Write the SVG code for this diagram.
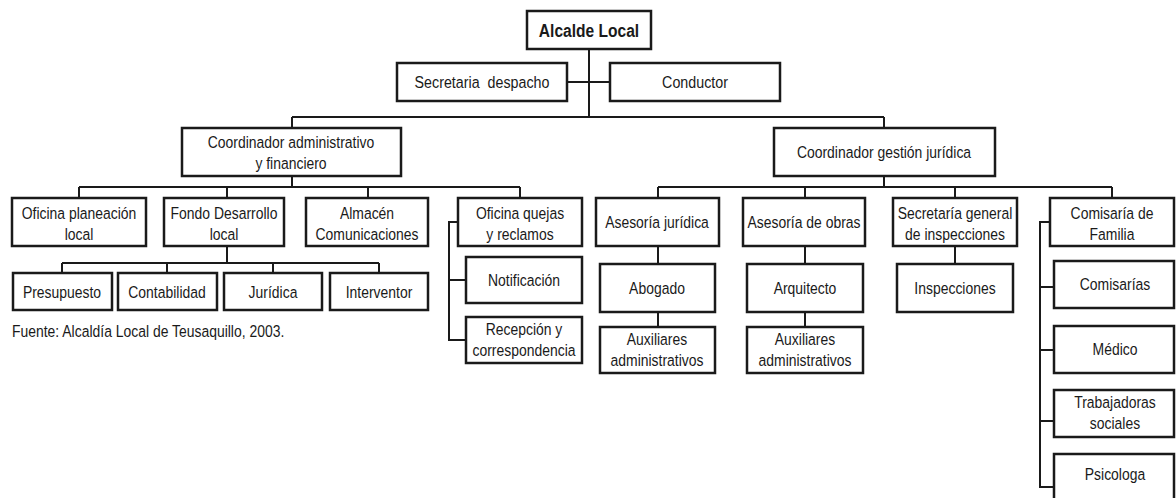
<svg xmlns="http://www.w3.org/2000/svg" width="1176" height="498" viewBox="0 0 1176 498">
<style>
.b{fill:#fff;stroke:#1a1a1a;stroke-width:2.5}
.c{fill:none;stroke:#1a1a1a;stroke-width:2}
text{font-family:"Liberation Sans",Arial,sans-serif;font-size:17px;fill:#1a1a1a;text-anchor:middle}
.bold{font-weight:bold;font-size:19px}
.src{text-anchor:start}
</style>
<rect width="1176" height="498" fill="#fff"/>
<g id="connectors" class="c">
<path d="M589 49V117M567 82H610M292 117H884M292 117V128M884 117V128"/>
<path d="M292 176V187M79 187H520M79 187V198M227 187V198M368 187V198M520 187V198"/>
<path d="M884 176V187M658 187H1112M658 187V198M805 187V198M955 187V198M1112 187V198"/>
<path d="M227 246V263M62 263H379M62 263V273M167 263V273M273 263V273M379 263V273"/>
<path d="M458 222H449V340H466M449 280H466"/>
<path d="M658 246V264M658 312V327M805 246V264M805 312V327M955 246V264"/>
<path d="M1050 222H1040V487H1054M1040 287H1054M1040 350H1054M1040 421H1054"/>
</g>
<g id="alcalde"><rect class="b" x="527" y="11" width="124" height="38"/><text class="bold" transform="matrix(0.82 0 0 1 589 37)">Alcalde Local</text></g>
<g id="secretaria"><rect class="b" x="397" y="63" width="170" height="38"/><text transform="matrix(0.84 0 0 1 482 88)">Secretaria&#160; despacho</text></g>
<g id="conductor"><rect class="b" x="610" y="63" width="170" height="38"/><text transform="matrix(0.84 0 0 1 695 88)">Conductor</text></g>
<g id="coord-admin"><rect class="b" x="182" y="128" width="219" height="48"/><text transform="matrix(0.82 0 0 1 291 148)">Coordinador administrativo</text><text transform="matrix(0.82 0 0 1 291 169)">y financiero</text></g>
<g id="coord-juridica"><rect class="b" x="774" y="128" width="221" height="48"/><text transform="matrix(0.82 0 0 1 884 158)">Coordinador gestión jurídica</text></g>
<g id="planeacion"><rect class="b" x="12" y="198" width="134" height="48"/><text transform="matrix(0.82 0 0 1 79 219)">Oficina planeación</text><text transform="matrix(0.82 0 0 1 79 240)">local</text></g>
<g id="fondo"><rect class="b" x="164" y="198" width="120" height="48"/><text transform="matrix(0.82 0 0 1 224 219)">Fondo Desarrollo</text><text transform="matrix(0.82 0 0 1 224 240)">local</text></g>
<g id="almacen"><rect class="b" x="306" y="198" width="122" height="48"/><text transform="matrix(0.82 0 0 1 367 219)">Almacén</text><text transform="matrix(0.82 0 0 1 367 240)">Comunicaciones</text></g>
<g id="quejas"><rect class="b" x="458" y="198" width="124" height="48"/><text transform="matrix(0.82 0 0 1 520 219)">Oficina quejas</text><text transform="matrix(0.82 0 0 1 520 240)">y reclamos</text></g>
<g id="asesoria-juridica"><rect class="b" x="596" y="198" width="123" height="48"/><text transform="matrix(0.82 0 0 1 657 228)">Asesoría jurídica</text></g>
<g id="asesoria-obras"><rect class="b" x="743" y="198" width="122" height="48"/><text transform="matrix(0.82 0 0 1 804 228)">Asesoría de obras</text></g>
<g id="sec-general"><rect class="b" x="893" y="198" width="124" height="48"/><text transform="matrix(0.82 0 0 1 955 219)">Secretaría general</text><text transform="matrix(0.82 0 0 1 955 240)">de inspecciones</text></g>
<g id="comisaria"><rect class="b" x="1050" y="198" width="124" height="48"/><text transform="matrix(0.82 0 0 1 1112 219)">Comisaría de</text><text transform="matrix(0.82 0 0 1 1112 240)">Familia</text></g>
<g id="presupuesto"><rect class="b" x="13" y="273" width="99" height="37"/><text transform="matrix(0.82 0 0 1 62 298)">Presupuesto</text></g>
<g id="contabilidad"><rect class="b" x="118" y="273" width="99" height="37"/><text transform="matrix(0.82 0 0 1 167 298)">Contabilidad</text></g>
<g id="juridica"><rect class="b" x="224" y="273" width="98" height="37"/><text transform="matrix(0.82 0 0 1 273 298)">Jurídica</text></g>
<g id="interventor"><rect class="b" x="330" y="273" width="98" height="37"/><text transform="matrix(0.82 0 0 1 379 298)">Interventor</text></g>
<g id="notificacion"><rect class="b" x="466" y="257" width="116" height="46"/><text transform="matrix(0.82 0 0 1 524 286)">Notificación</text></g>
<g id="recepcion"><rect class="b" x="466" y="317" width="116" height="46"/><text transform="matrix(0.82 0 0 1 524 335)">Recepción y</text><text transform="matrix(0.82 0 0 1 524 356)">correspondencia</text></g>
<g id="abogado"><rect class="b" x="600" y="264" width="115" height="48"/><text transform="matrix(0.82 0 0 1 657 294)">Abogado</text></g>
<g id="aux1"><rect class="b" x="600" y="327" width="115" height="46"/><text transform="matrix(0.82 0 0 1 657 345)">Auxiliares</text><text transform="matrix(0.82 0 0 1 657 366)">administrativos</text></g>
<g id="arquitecto"><rect class="b" x="747" y="264" width="116" height="48"/><text transform="matrix(0.82 0 0 1 805 294)">Arquitecto</text></g>
<g id="aux2"><rect class="b" x="747" y="327" width="116" height="46"/><text transform="matrix(0.82 0 0 1 805 345)">Auxiliares</text><text transform="matrix(0.82 0 0 1 805 366)">administrativos</text></g>
<g id="inspecciones"><rect class="b" x="897" y="264" width="116" height="48"/><text transform="matrix(0.82 0 0 1 955 294)">Inspecciones</text></g>
<g id="comisarias"><rect class="b" x="1054" y="261" width="120" height="47"/><text transform="matrix(0.82 0 0 1 1115 290)">Comisarías</text></g>
<g id="medico"><rect class="b" x="1054" y="326" width="120" height="47"/><text transform="matrix(0.82 0 0 1 1115 355)">Médico</text></g>
<g id="trabajadoras"><rect class="b" x="1054" y="390" width="120" height="47"/><text transform="matrix(0.82 0 0 1 1115 408)">Trabajadoras</text><text transform="matrix(0.82 0 0 1 1115 429)">sociales</text></g>
<g id="psicologa"><rect class="b" x="1054" y="454" width="120" height="50"/><text transform="matrix(0.82 0 0 1 1115 480)">Psicologa</text></g>
<text class="src" transform="matrix(0.82 0 0 1 12 337)">Fuente: Alcaldía Local de Teusaquillo, 2003.</text>
</svg>
